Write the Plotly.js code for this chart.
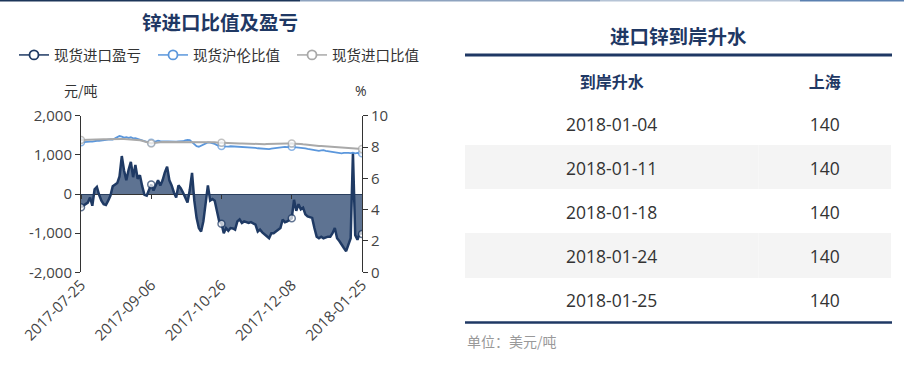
<!DOCTYPE html>
<html>
<head>
<meta charset="utf-8">
<script src="https://cdn.plot.ly/plotly-3.0.1.min.js"></script>
<style>
html,body{margin:0;padding:0;background:#fff;}
#chart{width:904px;height:375px;}
</style>
</head>
<body>
<div id="chart"></div>
<script>
// ---------------- DATA ----------------
const dates = [
 '2017-07-25','2017-07-26','2017-07-27','2017-07-28','2017-07-31',
 '2017-08-01','2017-08-02','2017-08-03','2017-08-04','2017-08-07','2017-08-08','2017-08-09','2017-08-10','2017-08-11',
 '2017-08-14','2017-08-15','2017-08-16','2017-08-17','2017-08-18','2017-08-21','2017-08-22','2017-08-23','2017-08-24','2017-08-25',
 '2017-08-28','2017-08-29','2017-08-30','2017-08-31',
 '2017-09-01','2017-09-04','2017-09-05','2017-09-06','2017-09-07','2017-09-08',
 '2017-09-11','2017-09-12','2017-09-13','2017-09-14','2017-09-15','2017-09-18','2017-09-19','2017-09-20','2017-09-21','2017-09-22',
 '2017-09-25','2017-09-26','2017-09-27','2017-09-28','2017-09-29',
 '2017-10-09','2017-10-10','2017-10-11','2017-10-12','2017-10-13','2017-10-16','2017-10-17','2017-10-18','2017-10-19','2017-10-20',
 '2017-10-23','2017-10-24','2017-10-25','2017-10-26','2017-10-27','2017-10-30','2017-10-31',
 '2017-11-01','2017-11-02','2017-11-03','2017-11-06','2017-11-07','2017-11-08','2017-11-09','2017-11-10',
 '2017-11-13','2017-11-14','2017-11-15','2017-11-16','2017-11-17','2017-11-20','2017-11-21','2017-11-22','2017-11-23','2017-11-24',
 '2017-11-27','2017-11-28','2017-11-29','2017-11-30',
 '2017-12-01','2017-12-04','2017-12-05','2017-12-06','2017-12-07','2017-12-08',
 '2017-12-11','2017-12-12','2017-12-13','2017-12-14','2017-12-15','2017-12-18','2017-12-19','2017-12-20','2017-12-21','2017-12-22',
 '2017-12-25','2017-12-26','2017-12-27','2017-12-28',
 '2018-01-03','2018-01-04','2018-01-05','2018-01-08','2018-01-09','2018-01-10','2018-01-11','2018-01-12',
 '2018-01-15','2018-01-16','2018-01-17','2018-01-18','2018-01-19','2018-01-22','2018-01-23','2018-01-24','2018-01-25'
];

// 现货进口盈亏 (元/吨)
const importProfit = [
 -340,-300,-260,-220,-90,-300,120,180,-20,-170,
 -260,-280,-170,-40,200,240,280,450,970,600,
 350,620,820,430,740,390,480,200,-20,-40,
 90,240,90,200,350,220,350,550,700,350,
 220,40,-90,220,150,40,-90,-220,100,540,
 -170,-610,-870,-960,-700,-200,220,-170,-130,-170,
 -450,-700,-760,-1000,-870,-940,-870,-880,-910,-700,
 -650,-740,-700,-720,-740,-720,-760,-780,-960,-910,
 -980,-1040,-1080,-1130,-1000,-1000,-960,-930,-870,-650,
 -720,-700,-660,-620,-150,-430,-260,-390,-350,-520,
 -570,-590,-610,-870,-1090,-1130,-1090,-1130,-1100,-1090,
 -1090,-1000,-870,-1130,-1200,-1300,-1380,-1460,-1300,-1130,
 1050,-1050,-1170,-1000,-1020
];

// 现货沪伦比值 (%)
const shLmeRatio = [
 8.30,8.32,8.34,8.33,8.35,8.34,8.38,8.40,8.39,8.42,
 8.41,8.44,8.47,8.49,8.48,8.55,8.62,8.70,8.66,8.60,
 8.63,8.58,8.62,8.55,8.57,8.52,8.48,8.45,8.36,8.30,
 8.28,8.27,8.30,8.36,8.40,8.38,8.37,8.39,8.38,8.36,
 8.37,8.35,8.34,8.36,8.35,8.37,8.42,8.46,8.44,8.30,
 8.18,8.06,8.02,8.08,8.15,8.22,8.30,8.28,8.25,8.20,
 8.12,8.07,8.06,8.04,8.02,8.03,8.05,8.04,8.02,8.03,
 8.01,8.02,8.00,7.99,7.98,8.00,7.97,7.95,7.92,7.91,
 7.88,7.86,7.85,7.87,7.90,7.92,7.94,7.96,7.97,8.00,
 8.01,7.99,8.01,8.02,8.00,7.99,7.97,7.98,7.95,7.92,
 7.88,7.85,7.82,7.80,7.77,7.76,7.78,7.80,7.76,7.74,
 7.71,7.70,7.68,7.65,7.62,7.60,7.63,7.64,7.62,7.61,
 7.64,7.60,7.62,7.58,7.60
];

// 现货进口比值 (%)
const importRatio = [
 8.45,8.46,8.45,8.47,8.46,8.48,8.47,8.49,8.48,8.49,
 8.50,8.49,8.50,8.51,8.50,8.51,8.52,8.51,8.52,8.51,
 8.50,8.51,8.50,8.48,8.47,8.45,8.43,8.40,8.35,8.30,
 8.26,8.23,8.25,8.28,8.30,8.31,8.32,8.32,8.33,8.32,
 8.33,8.34,8.33,8.34,8.33,8.32,8.33,8.32,8.33,8.32,
 8.31,8.30,8.31,8.30,8.31,8.32,8.31,8.30,8.31,8.30,
 8.29,8.28,8.28,8.27,8.26,8.25,8.25,8.24,8.24,8.23,
 8.22,8.23,8.22,8.21,8.21,8.20,8.20,8.19,8.19,8.18,
 8.19,8.18,8.19,8.20,8.21,8.22,8.22,8.23,8.22,8.23,
 8.24,8.23,8.23,8.23,8.22,8.21,8.20,8.19,8.17,8.15,
 8.13,8.12,8.10,8.09,8.08,8.07,8.07,8.06,8.05,8.04,
 8.03,8.02,8.01,8.00,7.98,7.97,7.96,7.95,7.94,7.93,
 7.92,7.90,7.89,7.88,7.87
];

const seriesNames = ['现货进口盈亏','现货沪伦比值','现货进口比值'];
const xTickLabels = ['2017-07-25','2017-09-06','2017-10-26','2017-12-08','2018-01-25'];
const leftTickVals = [-2000,-1000,0,1000,2000];
const leftTickText = ['-2,000','-1,000','0','1,000','2,000'];
const rightTickVals = [0,2,4,6,8,10];

const tableHeader = ['到岸升水','上海'];
const tableDates = ['2018-01-04','2018-01-11','2018-01-18','2018-01-24','2018-01-25'];
const tableShanghai = [140,140,140,140,140];

// ---------------- STYLE ----------------
const W = 904, H = 375;
const px = v => v / W;
const py = v => 1 - v / H;
const FONT = '"Noto Sans CJK SC", "Noto Sans", sans-serif';
const NUMFONT = '"Open Sans", "Noto Sans CJK SC", sans-serif';
const NAVY = '#1f3864';
const C1 = '#1f3a64', C2 = '#5b97dc', C3 = '#a9a9a9';
const markerSizes = dates.map(d => xTickLabels.includes(d) ? 7 : 0);
const NOLINE = {width: 0, color: 'rgba(0,0,0,0)'};
const CLEAR = 'rgba(0,0,0,0)';

const traces = [
  {x: dates, y: importProfit, type: 'scatter', mode: 'lines+markers', name: seriesNames[0],
   fill: 'tozeroy', fillcolor: 'rgba(40,68,110,0.75)',
   line: {color: C1, width: 2.5},
   marker: {size: markerSizes, color: '#fff', line: {color: C1, width: 1.5}},
   showlegend: false},
  {x: dates, y: shLmeRatio, type: 'scatter', mode: 'lines+markers', name: seriesNames[1], yaxis: 'y2',
   line: {color: C2, width: 1.8},
   marker: {size: markerSizes, color: '#fff', line: {color: C2, width: 1.5}},
   showlegend: false},
  {x: dates, y: importRatio, type: 'scatter', mode: 'lines+markers', name: seriesNames[2], yaxis: 'y2',
   line: {color: C3, width: 2},
   marker: {size: markerSizes, color: '#fff', line: {color: C3, width: 1.5}},
   showlegend: false},
  // legend entries
  {x: [null], y: [null], type: 'scatter', mode: 'lines+markers', name: seriesNames[0],
   line: {color: C1, width: 1.5}, marker: {size: 9, color: '#fff', line: {color: C1, width: 1.8}}},
  {x: [null], y: [null], type: 'scatter', mode: 'lines+markers', name: seriesNames[1],
   line: {color: C2, width: 1.5}, marker: {size: 9, color: '#fff', line: {color: C2, width: 1.8}}},
  {x: [null], y: [null], type: 'scatter', mode: 'lines+markers', name: seriesNames[2],
   line: {color: C3, width: 1.5}, marker: {size: 9, color: '#fff', line: {color: C3, width: 1.8}}},
  // carrier for the tick marks on the zero line
  {x: dates, y: dates.map(() => null), type: 'scatter', mode: 'lines', xaxis: 'x2',
   showlegend: false, hoverinfo: 'skip'},
  // table: row backgrounds
  {type: 'table', domain: {x: [px(465), px(892)], y: [py(322.5), py(56)]},
   columnwidth: [294, 133],
   header: {values: ['', ''], height: 44.5, fill: {color: '#fff'}, line: NOLINE},
   cells: {values: [tableDates.map(() => ''), tableShanghai.map(() => '')], height: 44.3,
           fill: {color: [tableDates.map((d, i) => i % 2 ? '#f4f4f4' : '#fff')]}, line: NOLINE}},
  // table: text
  {type: 'table', domain: {x: [px(465), px(892)], y: [py(334), py(61)]},
   columnwidth: [294, 133],
   header: {values: tableHeader.map(h => '<b>' + h + '</b>'), align: 'center', height: 48.5,
            fill: {color: CLEAR}, line: NOLINE,
            font: {family: FONT, size: 16, color: NAVY}},
   cells: {values: [tableDates, tableShanghai], align: 'center', height: 44,
           fill: {color: CLEAR}, line: NOLINE,
           font: {family: NUMFONT, size: 17.5, color: '#333'}}}
];

const axisFont = {family: NUMFONT, size: 15, color: '#444'};
const layout = {
  width: W, height: H,
  margin: {l: 0, r: 0, t: 0, b: 0},
  paper_bgcolor: '#fff', plot_bgcolor: 'rgba(0,0,0,0)',
  font: {family: FONT, color: '#333'},
  showlegend: true,
  legend: {orientation: 'h', x: px(14), y: py(39), xanchor: 'left', yanchor: 'top',
           font: {family: FONT, size: 14.5, color: '#333'}, bgcolor: 'rgba(0,0,0,0)',
           itemwidth: 30, entrywidth: 94, entrywidthmode: 'pixels'},
  xaxis: {domain: [px(81), px(362)], type: 'category', range: [0, dates.length - 1],
          tickvals: xTickLabels, ticktext: xTickLabels, tickangle: -45, ticks: '',
          showline: false, showgrid: false, zeroline: false, tickfont: axisFont, anchor: 'y'},
  xaxis2: {domain: [px(81), px(362)], type: 'category', range: [0, dates.length - 1],
           anchor: 'free', position: py(194.3), overlaying: 'x',
           tickvals: xTickLabels, ticks: 'outside', ticklen: 4, tickcolor: '#333', tickwidth: 1,
           showticklabels: false, showline: false, showgrid: false, zeroline: false},
  yaxis: {domain: [py(272.3), py(115.7)], range: [-2000, 2000], tickvals: leftTickVals, ticktext: leftTickText,
          ticks: 'outside', ticklen: 5, tickcolor: '#333', showline: true, linecolor: '#333', linewidth: 1,
          showgrid: false, zeroline: true, zerolinecolor: '#333', zerolinewidth: 1, tickfont: axisFont},
  yaxis2: {overlaying: 'y', side: 'right', anchor: 'x', range: [0, 10], tickvals: rightTickVals,
           ticks: 'outside', ticklen: 5, tickcolor: '#333', showline: true, linecolor: '#333', linewidth: 1,
           showgrid: false, zeroline: false, tickfont: axisFont},
  annotations: [
    {text: '<b>锌进口比值及盈亏</b>', x: px(219.5), y: py(21), xref: 'paper', yref: 'paper',
     xanchor: 'center', yanchor: 'middle', showarrow: false,
     font: {family: FONT, size: 19.5, color: NAVY}},
    {text: '<b>进口锌到岸升水</b>', x: px(678), y: py(35), xref: 'paper', yref: 'paper',
     xanchor: 'center', yanchor: 'middle', showarrow: false,
     font: {family: FONT, size: 19.5, color: NAVY}},
    {text: '元/吨', x: px(81), y: py(90), xref: 'paper', yref: 'paper',
     xanchor: 'center', yanchor: 'middle', showarrow: false,
     font: {family: FONT, size: 14, color: '#333'}},
    {text: '%', x: px(361), y: py(90), xref: 'paper', yref: 'paper',
     xanchor: 'center', yanchor: 'middle', showarrow: false,
     font: {family: NUMFONT, size: 14, color: '#333'}},
    {text: '单位：美元/吨', x: px(465), y: py(341), xref: 'paper', yref: 'paper',
     xanchor: 'left', yanchor: 'middle', showarrow: false,
     font: {family: FONT, size: 14, color: '#999'}}
  ],
  shapes: [
    {type: 'line', xref: 'paper', yref: 'paper', x0: px(465), x1: px(892), y0: py(55), y1: py(55),
     line: {color: NAVY, width: 3}},
    {type: 'line', xref: 'paper', yref: 'paper', x0: px(465), x1: px(892), y0: py(322.5), y1: py(322.5),
     line: {color: NAVY, width: 2.5}},
    {type: 'line', xref: 'paper', yref: 'paper', x0: 0, x1: px(300), y0: py(0.8), y1: py(0.8),
     line: {color: '#1c3559', width: 1.6}},
    {type: 'line', xref: 'paper', yref: 'paper', x0: px(300), x1: px(600), y0: py(0.8), y1: py(0.8),
     line: {color: '#8ea3bf', width: 1.6}},
    {type: 'line', xref: 'paper', yref: 'paper', x0: px(600), x1: px(800), y0: py(0.8), y1: py(0.8),
     line: {color: '#b6c4d6', width: 1.6}},
    {type: 'line', xref: 'paper', yref: 'paper', x0: px(800), x1: 1, y0: py(0.8), y1: py(0.8),
     line: {color: '#5a80b0', width: 1.6}}
  ]
};

Plotly.newPlot('chart', traces, layout, {displayModeBar: false, staticPlot: true});
</script>
</body>
</html>
